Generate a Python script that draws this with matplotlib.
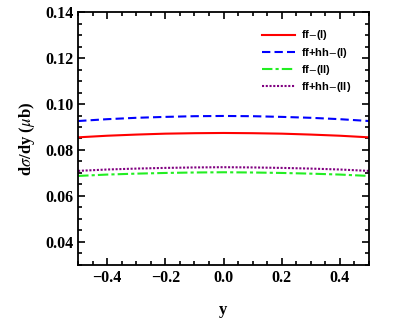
import numpy as np
import matplotlib.pyplot as plt
from matplotlib.ticker import MultipleLocator

plt.rcParams['mathtext.fontset'] = 'stix'

# rapidity points and curves
y = [-0.5, -0.4, -0.3, -0.2, -0.1, 0.0, 0.1, 0.2, 0.3, 0.4, 0.5]
ff_I = [0.0855, 0.0862, 0.0867, 0.0871, 0.0873, 0.0874, 0.0873, 0.0871, 0.0867, 0.0862, 0.0855]
ffhh_I = [0.0926, 0.0934, 0.0940, 0.0944, 0.0947, 0.0948, 0.0947, 0.0944, 0.0940, 0.0934, 0.0926]
ff_II = [0.0687, 0.0693, 0.0697, 0.0700, 0.0702, 0.0703, 0.0702, 0.0700, 0.0697, 0.0693, 0.0687]
ffhh_II = [0.0709, 0.0715, 0.0719, 0.0722, 0.0724, 0.0725, 0.0724, 0.0722, 0.0719, 0.0715, 0.0709]

fig = plt.figure(figsize=(4.09, 3.27), dpi=100)
ax = fig.add_axes([0.191, 0.19, 0.711, 0.773])

ax.plot(y, ff_I, color='red', lw=1.5, label='ff$-$(I)')
ax.plot(y, ffhh_I, color='blue', lw=1.5, ls=(0, (4, 2)), label='ff+hh$-$(I)')
ax.plot(y, ff_II, color='#22ee22', lw=1.5, ls=(0, (5, 1.5, 1.5, 1.5)), label='ff$-$(II)')
ax.plot(y, ffhh_II, color='purple', lw=1.5, ls=(0, (1, 0.8)), label='ff+hh$-$(II)')

ax.set_xlim(-0.5, 0.5)
ax.set_ylim(0.03, 0.14)
ax.xaxis.set_major_locator(MultipleLocator(0.2))
ax.xaxis.set_minor_locator(MultipleLocator(0.05))
ax.yaxis.set_major_locator(MultipleLocator(0.02))
ax.yaxis.set_minor_locator(MultipleLocator(0.005))
ax.set_yticks([0.04, 0.06, 0.08, 0.10, 0.12, 0.14])
ax.set_yticklabels(['0.04', '0.06', '0.08', '0.10', '0.12', '0.14'])
ax.set_xticks([-0.4, -0.2, 0.0, 0.2, 0.4])
ax.set_xticklabels(['\u22120.4', '\u22120.2', '0.0', '0.2', '0.4'])
ax.tick_params(which='both', direction='in', top=True, right=True, width=1.2)
ax.tick_params(which='major', length=5)
ax.tick_params(which='minor', length=3)
for lab in ax.get_xticklabels() + ax.get_yticklabels():
    lab.set_fontfamily('Liberation Serif')
    lab.set_fontweight('bold')
    lab.set_fontsize(11.5)
for s in ax.spines.values():
    s.set_linewidth(1.3)

ax.set_xlabel('y', fontfamily='Liberation Serif', fontweight='bold', fontsize=12, labelpad=12)
ax.set_ylabel(r'd$\sigma$/dy ($\mu$b)', fontfamily='Liberation Serif', fontweight='bold',
              fontsize=12, labelpad=6)

leg = ax.legend(loc='upper right', bbox_to_anchor=(0.972, 0.975), frameon=False,
                prop={'family': 'Liberation Sans', 'weight': 'bold', 'size': 8},
                handlelength=3.0, handletextpad=0.5, labelspacing=0.28)

fig.savefig('out.png', dpi=100)
